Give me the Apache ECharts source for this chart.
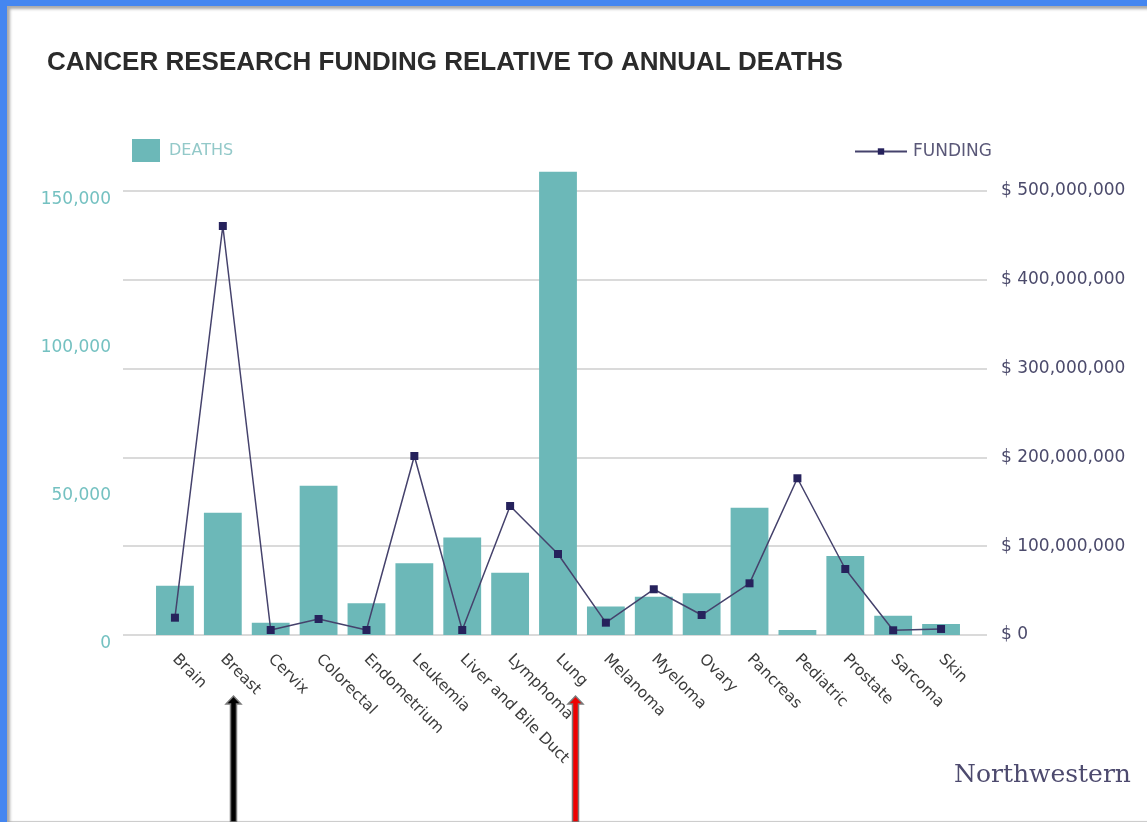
<!DOCTYPE html>
<html>
<head>
<meta charset="utf-8">
<script src="https://cdn.jsdelivr.net/npm/echarts/dist/echarts.min.js"></script>
<style>
  html, body { margin: 0; padding: 0; background: #4486f0; width: 1147px; height: 822px; overflow: hidden; }
  #card { position: absolute; left: 7px; top: 6px; width: 1140px; height: 816px; background: #ffffff;
          box-shadow: inset 4px 4px 3px -1px #a9a9a9, inset 0 -2px 1px -1px #c8c8c8; }
  #chart { position: absolute; left: 0; top: 0; width: 1147px; height: 822px; }
</style>
</head>
<body>
<div id="card"></div>
<div id="chart"></div>
<script>
const categories = ['Brain', 'Breast', 'Cervix', 'Colorectal', 'Endometrium', 'Leukemia', 'Liver and Bile Duct',
  'Lymphoma', 'Lung', 'Melanoma', 'Myeloma', 'Ovary', 'Pancreas', 'Pediatric', 'Prostate', 'Sarcoma', 'Skin'];
const deaths = [16600, 41300, 4150, 50400, 10700, 24200, 32900, 21000, 156500, 9600, 12900, 14100, 43000, 1700, 26700, 6500, 3700];
const funding = [19500000, 460600000, 5600000, 18000000, 5600000, 201600000, 5600000, 145300000, 91200000,
  13900000, 51500000, 22500000, 58200000, 176500000, 74300000, 5300000, 6800000];
const deathTicks = { min: 0, max: 150000, interval: 50000 };
const fundingTicks = { min: 0, max: 500000000, interval: 100000000 };

const fmt = v => String(v).replace(/\B(?=(\d{3})+(?!\d))/g, ',');
const UI_FONT = '"DejaVu Sans", Verdana, sans-serif';

const chart = echarts.init(document.getElementById('chart'));
const arrow = (cx, color) => ({
  type: 'polygon',
  shape: { points: [[cx - 3, 822], [cx - 3, 704], [cx - 7.5, 704], [cx, 696], [cx + 7.5, 704], [cx + 3, 704], [cx + 3, 822]] },
  style: { fill: color, stroke: '#7a7a7a', lineWidth: 1.5 },
  z: 10
});
chart.setOption({
  animation: false,
  textStyle: { fontFamily: UI_FONT },
  title: {
    text: 'CANCER RESEARCH FUNDING RELATIVE TO ANNUAL DEATHS',
    left: 42, top: 45,
    textStyle: { fontFamily: 'Liberation Sans', fontWeight: 'bold', fontSize: 26, color: '#2b2b2b' }
  },
  legend: [
    {
      data: ['DEATHS'], left: 127, top: 134, itemWidth: 28, itemHeight: 23, itemGap: 10, icon: 'rect',
      textStyle: { color: '#93c9c9', fontSize: 16, fontFamily: UI_FONT, padding: [0, 0, 0, 4] }
    },
    {
      data: ['FUNDING'], left: 849, top: 138, itemWidth: 52, itemHeight: 8, itemGap: 10,
      textStyle: { color: '#5a5878', fontSize: 17, fontFamily: UI_FONT, padding: [0, 0, 0, 1] }
    }
  ],
  grid: [
    { left: 123, right: 160, top: 191, bottom: 187 },
    { left: 151, right: 182, top: 191, bottom: 187 }
  ],
  xAxis: [
    { gridIndex: 0, type: 'value', min: 0, max: 1, show: false },
    {
      gridIndex: 1, type: 'category', data: categories,
      axisLine: { show: false }, axisTick: { show: false },
      axisLabel: { rotate: -45, margin: 22, fontSize: 15.5, color: '#3c3c3c', interval: 0, fontFamily: UI_FONT }
    }
  ],
  yAxis: [
    {
      gridIndex: 0, type: 'value', position: 'left', ...deathTicks,
      splitLine: { show: false }, axisLine: { show: false }, axisTick: { show: false },
      axisLabel: { margin: 12, fontSize: 17, color: '#74c1c1', formatter: v => fmt(v), verticalAlign: 'top' }
    },
    {
      gridIndex: 0, type: 'value', position: 'right', ...fundingTicks,
      splitLine: { show: true, lineStyle: { color: '#dadada', width: 2 } },
      axisLine: { show: false }, axisTick: { show: false },
      axisLabel: { margin: 14, fontSize: 17, color: '#4b4a6b', formatter: v => '$ ' + fmt(v) }
    },
    { gridIndex: 1, type: 'value', ...deathTicks, show: false, splitLine: { show: false } },
    { gridIndex: 1, type: 'value', ...fundingTicks, show: false, splitLine: { show: false } }
  ],
  series: [
    {
      name: 'DEATHS', type: 'bar', xAxisIndex: 1, yAxisIndex: 2, data: deaths,
      barCategoryGap: '21%', clip: false,
      itemStyle: { color: '#6cb8b8' }
    },
    {
      name: 'FUNDING', type: 'line', xAxisIndex: 1, yAxisIndex: 3, data: funding,
      symbol: 'rect', symbolSize: 8,
      lineStyle: { color: '#45426c', width: 1.5 },
      itemStyle: { color: '#26225c' },
      z: 5
    }
  ],
  graphic: [
    {
      type: 'text', left: 954, top: 763,
      style: { text: 'Northwestern', font: '25px "DejaVu Serif", "Liberation Serif", serif', fill: '#4d4a6e' }
    },
    arrow(233.5, '#000000'),
    arrow(575.5, '#ee0000')
  ]
});
</script>
</body>
</html>
